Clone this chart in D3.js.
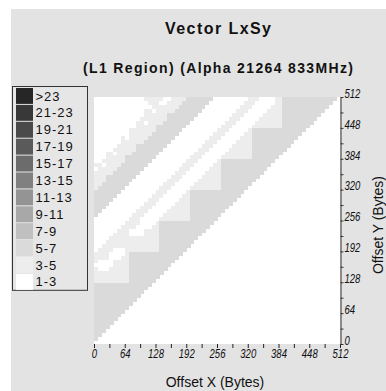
<!DOCTYPE html>
<html>
<head>
<meta charset="utf-8">
<script src="https://cdn.jsdelivr.net/npm/d3@7"></script>
<style>
  html, body { margin: 0; padding: 0; background: #ffffff; }
  svg { display: block; }
  text { font-family: "Liberation Sans", Arial, Helvetica, sans-serif; fill: #111; }
</style>
</head>
<body>
<svg id="chart" width="386" height="391"></svg>
<script>
// Level classes (cycles), lowest first
const levelLabels = ["1-3", "3-5", "5-7", "7-9", "9-11", "11-13", "13-15", "15-17", "17-19", "19-21", "21-23", ">23"];
const levelColors = ["#ffffff", "#ededed", "#dadada", "#c0c0c0", "#a8a8a8", "#949494", "#808080", "#6c6c6c", "#5a5a5a", "#4a4a4a", "#383838", "#262626"];

// Axis ticks (bytes)
const xTicks = [0, 32, 64, 96, 128, 160, 192, 224, 256, 288, 320, 352, 384, 416, 448, 480, 512];
const yTicks = [0, 32, 64, 96, 128, 160, 192, 224, 256, 288, 320, 352, 384, 416, 448, 480, 512];
const labelTicks = [0, 64, 128, 192, 256, 320, 384, 448, 512];
const cellBytes = 8;

// Measured level per 8-byte cell, one entry per Offset Y row (row 0 at the bottom),
// run-length coded from Offset X = 0: w = 1-3, l = 3-5, g = 5-7
const cellRows = [
  "",
  "g1", "g2", "g3", "g4", "g5", "g6", "g7", "g8", "g9", "g10",
  "g11", "g12", "g13", "g14", "g15",
  "l9 g7",
  "l9 g8",
  "l9 g9",
  "l1 w3 l5 g10",
  "w5 l4 g11",
  "l1 w4 l4 g12",
  "l4 w3 l2 g13",
  "l4 w4 l1 g14",
  "w1 l4 w3 l9 g7",
  "w2 l15 g8",
  "w3 l14 g9",
  "w4 l13 g10",
  "w5 l4 w4 l4 g11",
  "w6 l3 w4 l4 g12",
  "w7 l4 w4 l2 g13",
  "w8 l4 w4 l1 g14",
  "w9 l3 w5 l8 g7",
  "g1 w9 l3 w5 l7 g8",
  "g2 w9 l3 w5 l6 g9",
  "g3 w9 l3 w5 l5 g10",
  "g4 w9 l3 w5 l4 g11",
  "g5 w9 l3 w5 l3 g12",
  "g6 w9 l3 w5 l2 g13",
  "g7 w9 l3 w5 l1 g14",
  "l1 g7 w9 l3 w5 l8 g7",
  "l2 g7 w9 l3 w5 l7 g8",
  "l3 g7 w9 l3 w5 l6 g9",
  "l3 g8 w9 l3 w5 l5 g10",
  "l5 g7 w9 l3 w5 l4 g11",
  "w1 l5 g7 w9 l3 w5 l3 g12",
  "l2 w1 l4 g7 w9 l3 w5 l2 g13",
  "w2 l6 g7 w9 l3 w5 l1 g14",
  "w3 l5 g8 w9 l3 w5 l8 g7",
  "w3 l2 w1 l4 g7 w9 l3 w5 l7 g8",
  "w5 l6 g7 w9 l3 w5 l6 g9",
  "w6 l5 g8 w9 l3 w5 l5 g10",
  "w7 l6 g7 w9 l3 w5 l4 g11",
  "w7 l1 w1 l5 g7 w9 l3 w5 l3 g12",
  "w9 l6 g7 w9 l3 w5 l2 g13",
  "w9 l7 g7 w9 l3 w5 l1 g14",
  "w11 l5 g8 w9 l3 w5 l8 g7",
  "w11 l2 w1 l4 g7 w9 l3 w5 l7 g8",
  "w12 l7 g7 w9 l3 w5 l6 g9",
  "w13 l6 g8 w9 l3 w5 l5 g10",
  "w13 l2 w1 l5 g7 w9 l3 w5 l4 g11",
  "w15 l7 g7 w9 l3 w5 l3 g12",
  "w14 l3 w2 l4 g7 w9 l3 w5 l2 g13",
  "w13 l5 w2 l4 g7 w9 l3 w4 l2 g14"
];
const runCodes = { w: 0, l: 1, g: 2 };

// Expand the run-length rows into cells
const cells = [];
cellRows.forEach((row, j) => {
  let i = 0;
  row.split(" ").filter(Boolean).forEach(tok => {
    const level = runCodes[tok[0]];
    const n = +tok.slice(1);
    for (let k = 0; k < n; k++, i++) cells.push({ x: i * cellBytes, y: j * cellBytes, level });
  });
});

const svg = d3.select("#chart");

// panel background
svg.append("rect").attr("x", 11).attr("y", 9).attr("width", 375).attr("height", 382).attr("fill", "#e3e3e3");

// titles
svg.append("text").attr("x", 218).attr("y", 34).attr("text-anchor", "middle")
  .style("font-size", "16px").style("font-weight", "bold").attr("textLength", 106).attr("lengthAdjust", "spacing")
  .text("Vector LxSy");
svg.append("text").attr("x", 218).attr("y", 73).attr("text-anchor", "middle")
  .style("font-size", "14px").style("font-weight", "bold").attr("textLength", 270).attr("lengthAdjust", "spacing")
  .text("(L1 Region) (Alpha 21264 833MHz)");

// scales
const x = d3.scaleLinear().domain([0, 512]).range([94, 340]);
const y = d3.scaleLinear().domain([0, 512]).range([344, 97]);
const color = d3.scaleOrdinal().domain(d3.range(levelLabels.length)).range(levelColors);

// plot area
svg.append("rect").attr("x", x(0)).attr("y", y(512)).attr("width", x(512) - x(0)).attr("height", y(0) - y(512)).attr("fill", "#ffffff");

svg.append("g").attr("shape-rendering", "crispEdges")
  .selectAll("rect").data(cells).join("rect")
  .attr("x", d => x(d.x))
  .attr("y", d => y(d.y + cellBytes))
  .attr("width", d => x(d.x + cellBytes) - x(d.x) + 0.5)
  .attr("height", d => y(d.y) - y(d.y + cellBytes) + 0.5)
  .attr("fill", d => color(d.level));

// condensed italic tick labels
function styleTickText(sel) {
  sel.style("font-size", "12px").style("font-style", "italic").attr("fill", "#222")
    .attr("font-family", "Liberation Sans, Arial, sans-serif")
    .each(function () {
      const t = d3.select(this).text();
      if (t) d3.select(this).attr("textLength", t.length * 5.3).attr("lengthAdjust", "spacingAndGlyphs");
    });
}

// x axis (ticks only)
const xAxis = svg.append("g").attr("transform", `translate(0,${y(0)})`)
  .call(d3.axisBottom(x).tickValues(xTicks).tickSize(4).tickSizeOuter(0).tickPadding(1.5)
    .tickFormat(v => labelTicks.includes(v) ? v : ""));
xAxis.select(".domain").remove();
xAxis.selectAll("line").attr("stroke", "#222");
styleTickText(xAxis.selectAll("text"));

// y axis on the right
const yAxis = svg.append("g").attr("transform", `translate(${x(512) + 0.5},0)`)
  .call(d3.axisRight(y).tickValues(yTicks).tickSize(3).tickSizeOuter(0).tickPadding(1)
    .tickFormat(v => labelTicks.includes(v) ? v : ""));
yAxis.select(".domain").attr("stroke", "#333");
yAxis.selectAll("line").attr("stroke", "#333");
styleTickText(yAxis.selectAll("text"));
yAxis.selectAll("text").attr("dy", "0.02em");

// axis titles
svg.append("text").attr("x", 215).attr("y", 387).attr("text-anchor", "middle")
  .style("font-size", "14px").text("Offset X (Bytes)");
svg.append("text").attr("transform", "translate(383,225) rotate(-90)").attr("text-anchor", "middle")
  .style("font-size", "14px").text("Offset Y (Bytes)");

// legend, highest class on top
const legend = svg.append("g");
const lx = 12.5, ly = 86.5, lw = 75, rowH = 16.9;
legend.append("rect").attr("x", lx).attr("y", ly).attr("width", lw).attr("height", rowH * levelLabels.length + 1)
  .attr("fill", "#e6e6e6").attr("stroke", "#333");
const order = d3.range(levelLabels.length).reverse();
order.forEach((lev, k) => {
  legend.append("rect").attr("x", lx + 3.5).attr("y", ly + 1.5 + k * rowH).attr("width", 17).attr("height", rowH - 1)
    .attr("fill", color(lev));
  legend.append("text").attr("x", lx + 23).attr("y", ly + 1 + k * rowH + rowH / 2).attr("dy", "0.35em")
    .style("font-size", "13px").style("letter-spacing", "1px").text(levelLabels[lev]);
});
</script>
</body>
</html>
